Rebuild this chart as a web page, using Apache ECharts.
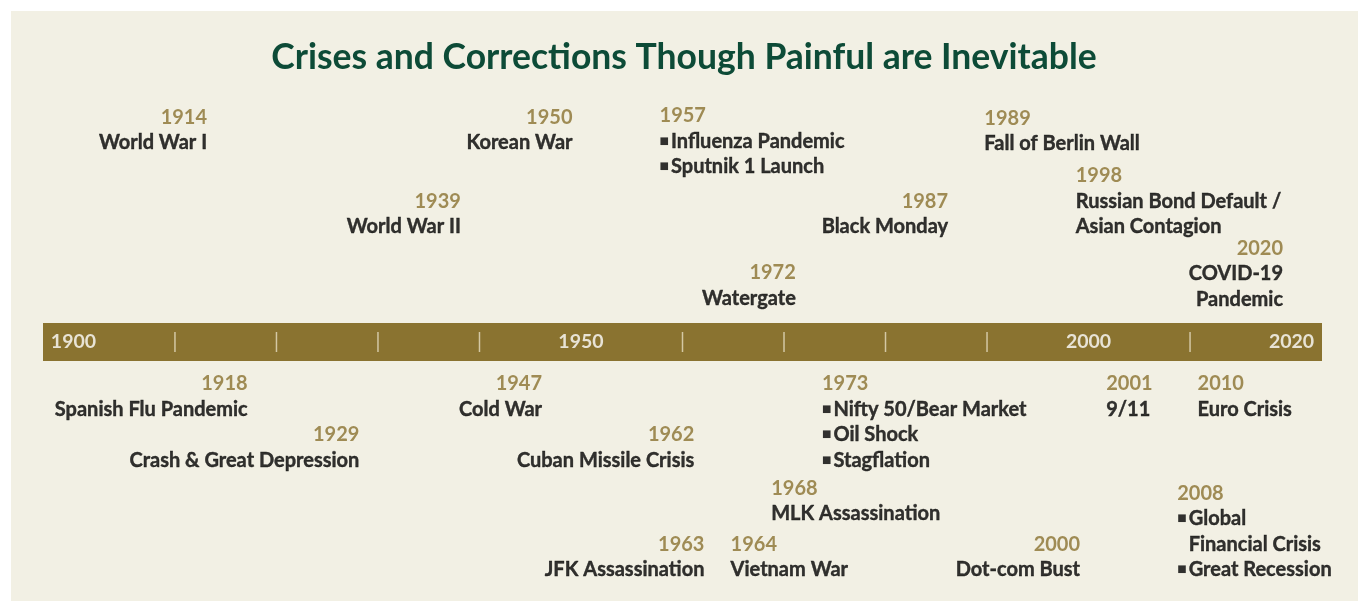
<!DOCTYPE html>
<html>
<head>
<meta charset="utf-8">
<script src="https://cdn.jsdelivr.net/npm/echarts@6/dist/echarts.min.js"></script>
<style>
  html, body { margin: 0; padding: 0; background: #fff; }
  #chart { width: 1358px; height: 601px; }
</style>
</head>
<body>
<div id="chart"></div>
<script>
// timeline data
const eventYears = [1914, 1950, 1957, 1989, 1939, 1987, 1998, 1972, 2020,
  1918, 1947, 1973, 2001, 2010, 1929, 1962, 1968, 2008, 1963, 1964, 2000];
const eventLines = [
  ['World War I'],
  ['Korean War'],
  ['*Influenza Pandemic', '*Sputnik 1 Launch'],
  ['Fall of Berlin Wall'],
  ['World War II'],
  ['Black Monday'],
  ['Russian Bond Default /', 'Asian Contagion'],
  ['Watergate'],
  ['COVID-19', 'Pandemic'],
  ['Spanish Flu Pandemic'],
  ['Cold War'],
  ['*Nifty 50/Bear Market', '*Oil Shock', '*Stagflation'],
  ['9/11'],
  ['Euro Crisis'],
  ['Crash & Great Depression'],
  ['Cuban Missile Crisis'],
  ['MLK Assassination'],
  ['*Global', '_Financial Crisis', '*Great Recession'],
  ['JFK Assassination'],
  ['Vietnam War'],
  ['Dot-com Bust']
];
// which side of the year the text hangs on
const eventSide = ['right', 'right', 'left', 'left', 'right', 'right', 'left', 'right', 'right',
  'right', 'right', 'left', 'left', 'left', 'right', 'right', 'left', 'left', 'right', 'left', 'right'];
// row of the year label, in text lines above (+) or below (-) the bar
const eventRow = [8.8, 8.8, 8.85, 8.75, 5.5, 5.5, 6.5, 2.7, 3.65,
  -1.65, -1.65, -1.65, -1.65, -1.65, -3.65, -3.65, -5.75, -5.95, -7.95, -7.95, -7.95];

const barLabels = [1900, 1950, 2000, 2020];
const barTicks = [1910, 1920, 1930, 1940, 1960, 1970, 1980, 1990, 2010];

const LINE = 25.5;
const OLIVE = '#8A7330';
const GOLD = '#8A7230';
const FONT = 'Lato';

const chart = echarts.init(document.getElementById('chart'));

function fmtEvent(p) {
  const lines = eventLines[p.dataIndex].map(function (s) {
    if (s[0] === '*') return '{b|\u25A0}{e|' + s.slice(1) + '}';
    if (s[0] === '_') return '{bh|\u25A0}{e|' + s.slice(1) + '}';
    return '{e|' + s + '}';
  });
  return '{y|' + eventYears[p.dataIndex] + '}\n' + lines.join('\n');
}

const eventData = eventYears.map(function (y, i) {
  const left = eventSide[i] === 'left';
  return {
    value: [y, eventRow[i]],
    label: {
      position: [left ? 8 : -8, -LINE / 2],
      align: left ? 'left' : 'right'
    }
  };
});

const option = {
  animation: false,
  backgroundColor: '#fff',
  graphic: [{
    type: 'rect',
    z: -10,
    shape: { x: 11, y: 11, width: 1347, height: 590 },
    style: { fill: '#F2F0E4' }
  }],
  title: {
    text: 'Crises and Corrections Though Painful are Inevitable',
    left: 679,
    top: 35,
    textAlign: 'center',
    textStyle: {
      color: '#0D4B37',
      fontFamily: FONT,
      fontWeight: 'bold',
      fontSize: 35.5
    }
  },
  grid: { left: 43, right: 36, top: 342 - LINE * 10, height: LINE * 20 },
  xAxis: {
    type: 'value',
    min: 1897,
    max: 2023,
    axisLine: { onZero: true, lineStyle: { color: OLIVE, width: 38, cap: 'butt' } },
    axisTick: { show: false },
    axisLabel: { show: false },
    splitLine: { show: false }
  },
  yAxis: {
    type: 'value',
    min: -10,
    max: 10,
    axisLine: { show: false },
    axisTick: { show: false },
    axisLabel: { show: false },
    splitLine: { show: false }
  },
  series: [{
    name: 'ticks',
    type: 'scatter',
    symbol: 'rect',
    symbolSize: [1.5, 20],
    itemStyle: { color: '#E6DDC2' },
    data: barTicks.map(function (y) { return [y, 0]; }),
    z: 5
  }, {
    name: 'barLabels',
    type: 'scatter',
    symbolSize: 1,
    itemStyle: { color: 'transparent' },
    data: barLabels.map(function (y) { return [y, 0]; }),
    label: {
      show: true,
      position: 'inside',
      formatter: function (p) { return String(p.value[0]); },
      color: '#fff',
      fontFamily: FONT,
      fontWeight: 'bold',
      fontSize: 19.5
    },
    z: 5
  }, {
    name: 'events',
    type: 'scatter',
    symbolSize: 1,
    itemStyle: { color: 'transparent' },
    data: eventData,
    label: {
      show: true,
      verticalAlign: 'top',
      formatter: fmtEvent,
      rich: {
        y: { color: GOLD, fontFamily: FONT, fontWeight: 'bold', fontSize: 20, lineHeight: LINE },
        e: { color: '#000', fontFamily: FONT, fontWeight: 'bold', fontSize: 20, lineHeight: LINE,
          textBorderColor: '#000', textBorderWidth: 0.4 },
        b: { color: '#000', fontFamily: 'DejaVu Sans', fontSize: 10, lineHeight: LINE, padding: [0, 2, 0, 0] },
        bh: { color: 'transparent', fontFamily: 'DejaVu Sans', fontSize: 10, lineHeight: LINE, padding: [0, 2, 0, 0] }
      }
    }
  }]
};

chart.setOption(option);
</script>
</body>
</html>
